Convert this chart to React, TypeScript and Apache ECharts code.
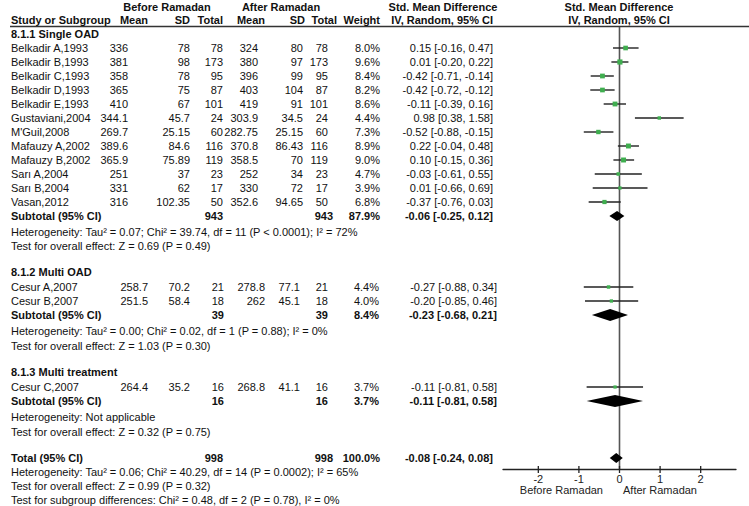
import React, { useEffect, useRef } from "react";
import * as echarts from "echarts";

// ---------- data ----------
const studyNames = [
  "Belkadir A,1993", "Belkadir B,1993", "Belkadir C,1993", "Belkadir D,1993", "Belkadir E,1993",
  "Gustaviani,2004", "M'Guil,2008", "Mafauzy A,2002", "Mafauzy B,2002", "Sarı A,2004",
  "Sarı B,2004", "Vasan,2012", "Cesur A,2007", "Cesur B,2007", "Cesur C,2007",
];
const studyGroup = [0, 0, 0, 0, 0, 0, 0, 0, 0, 0, 0, 0, 1, 1, 2];
const beforeMean = [336, 381, 358, 365, 410, 344.1, 269.7, 389.6, 365.9, 251, 331, 316, 258.7, 251.5, 264.4];
const beforeSD = [78, 98, 78, 75, 67, 45.7, 25.15, 84.6, 75.89, 37, 62, 102.35, 70.2, 58.4, 35.2];
const beforeTotal = [78, 173, 95, 87, 101, 24, 60, 116, 119, 23, 17, 50, 21, 18, 16];
const afterMean = [324, 380, 396, 403, 419, 303.9, 282.75, 370.8, 358.5, 252, 330, 352.6, 278.8, 262, 268.8];
const afterSD = [80, 97, 99, 104, 91, 34.5, 25.15, 86.43, 70, 34, 72, 94.65, 77.1, 45.1, 41.1];
const afterTotal = [78, 173, 95, 87, 101, 24, 60, 116, 119, 23, 17, 50, 21, 18, 16];
const weight = [8.0, 9.6, 8.4, 8.2, 8.6, 4.4, 7.3, 8.9, 9.0, 4.7, 3.9, 6.8, 4.4, 4.0, 3.7];
const smd = [0.15, 0.01, -0.42, -0.42, -0.11, 0.98, -0.52, 0.22, 0.10, -0.03, 0.01, -0.37, -0.27, -0.20, -0.11];
const ciLow = [-0.16, -0.20, -0.71, -0.72, -0.39, 0.38, -0.88, -0.04, -0.15, -0.61, -0.66, -0.76, -0.88, -0.85, -0.81];
const ciHigh = [0.47, 0.22, -0.14, -0.12, 0.16, 1.58, -0.15, 0.48, 0.36, 0.55, 0.69, 0.03, 0.34, 0.46, 0.58];

const groupTitles = ["8.1.1 Single OAD", "8.1.2 Multi OAD", "8.1.3 Multi treatment"];
const groupBeforeTotal = [943, 39, 16];
const groupAfterTotal = [943, 39, 16];
const groupWeight = [87.9, 8.4, 3.7];
const groupSmd = [-0.06, -0.23, -0.11];
const groupLow = [-0.25, -0.68, -0.81];
const groupHigh = [0.12, 0.21, 0.58];
const groupHeterogeneity = [
  "Heterogeneity: Tau² = 0.07; Chi² = 39.74, df = 11 (P < 0.0001); I² = 72%",
  "Heterogeneity: Tau² = 0.00; Chi² = 0.02, df = 1 (P = 0.88); I² = 0%",
  "Heterogeneity: Not applicable",
];
const groupEffect = [
  "Test for overall effect: Z = 0.69 (P = 0.49)",
  "Test for overall effect: Z = 1.03 (P = 0.30)",
  "Test for overall effect: Z = 0.32 (P = 0.75)",
];

const totalN = [998, 998];
const totalWeight = 100.0;
const totalSmd = -0.08;
const totalLow = -0.24;
const totalHigh = 0.08;
const totalNotes = [
  "Heterogeneity: Tau² = 0.06; Chi² = 40.29, df = 14 (P = 0.0002); I² = 65%",
  "Test for overall effect: Z = 0.99 (P = 0.32)",
  "Test for subgroup differences: Chi² = 0.48, df = 2 (P = 0.78), I² = 0%",
];

const xTicks = [-2, -1, 0, 1, 2];
const axisSideLabels = ["Before Ramadan", "After Ramadan"];

// ---------- layout ----------
const FONT = '"Liberation Sans", Arial, sans-serif';
const FS = 11;
const PLOT_LEFT = 503;
const PLOT_WIDTH = 233;
const PLOT_TOP = 27;
const PLOT_BOTTOM = 469;
const X_MIN = -2.87;
const X_MAX = 2.87;

type Cols = { bm: number; bsd: number; bt: number; am: number; asd: number; at: number; w: number; ci: number };
const colsA: Cols = { bm: 128, bsd: 190, bt: 223, am: 258, asd: 303, at: 328, w: 380, ci: 493 };
const colsB: Cols = { bm: 148, bsd: 190, bt: 224, am: 265, asd: 300, at: 328, w: 379, ci: 497 };
const groupCols = [colsA, colsB, colsB];

const fmt2 = (v: number) => v.toFixed(2);
const ciText = (m: number, l: number, h: number) => `${fmt2(m)} [${fmt2(l)}, ${fmt2(h)}]`;

type Txt = { t: string; x: number; y: number; align?: string; bold?: boolean };

function buildLayout() {
  const texts: Txt[] = [];
  const studyY: number[] = [];
  const groupY: number[] = [];
  let totalY = 0;
  let y = 34;
  for (let g = 0; g < groupTitles.length; g++) {
    const c = groupCols[g];
    if (g > 0) y += 26;
    texts.push({ t: groupTitles[g], x: 11, y, bold: true });
    let first = true;
    for (let i = 0; i < studyNames.length; i++) {
      if (studyGroup[i] !== g) continue;
      y += first && g > 0 ? 15 : 14;
      first = false;
      studyY[i] = y;
      texts.push({ t: studyNames[i], x: 11, y });
      texts.push({ t: String(beforeMean[i]), x: c.bm, y, align: "right" });
      texts.push({ t: String(beforeSD[i]), x: c.bsd, y, align: "right" });
      texts.push({ t: String(beforeTotal[i]), x: c.bt, y, align: "right" });
      texts.push({ t: String(afterMean[i]), x: c.am, y, align: "right" });
      texts.push({ t: String(afterSD[i]), x: c.asd, y, align: "right" });
      texts.push({ t: String(afterTotal[i]), x: c.at, y, align: "right" });
      texts.push({ t: weight[i].toFixed(1) + "%", x: c.w, y, align: "right" });
      texts.push({ t: ciText(smd[i], ciLow[i], ciHigh[i]), x: c.ci, y, align: "right" });
    }
    y += 14;
    groupY[g] = y;
    texts.push({ t: "Subtotal (95% CI)", x: 11, y, bold: true });
    texts.push({ t: String(groupBeforeTotal[g]), x: c.bt, y, align: "right", bold: true });
    texts.push({ t: String(groupAfterTotal[g]), x: g === 0 ? 333 : c.at, y, align: "right", bold: true });
    texts.push({ t: groupWeight[g].toFixed(1) + "%", x: c.w, y, align: "right", bold: true });
    texts.push({ t: ciText(groupSmd[g], groupLow[g], groupHigh[g]), x: c.ci, y, align: "right", bold: true });
    y += 16;
    texts.push({ t: groupHeterogeneity[g], x: 11, y });
    y += g === 0 ? 14 : 15;
    texts.push({ t: groupEffect[g], x: 11, y });
  }
  y += 26;
  totalY = y;
  texts.push({ t: "Total (95% CI)", x: 11, y, bold: true });
  texts.push({ t: String(totalN[0]), x: 223, y, align: "right", bold: true });
  texts.push({ t: String(totalN[1]), x: 333, y, align: "right", bold: true });
  texts.push({ t: totalWeight.toFixed(1) + "%", x: 380, y, align: "right", bold: true });
  texts.push({ t: ciText(totalSmd, totalLow, totalHigh), x: 493, y, align: "right", bold: true });
  for (const n of totalNotes) {
    y += 14;
    texts.push({ t: n, x: 11, y });
  }
  // header
  const hy1 = 7;
  const hy2 = 20;
  texts.push({ t: "Before Ramadan", x: 167, y: hy1, align: "center", bold: true });
  texts.push({ t: "After Ramadan", x: 281, y: hy1, align: "center", bold: true });
  texts.push({ t: "Std. Mean Difference", x: 443, y: hy1, align: "center", bold: true });
  texts.push({ t: "Std. Mean Difference", x: 619, y: hy1, align: "center", bold: true });
  texts.push({ t: "Study or Subgroup", x: 11, y: hy2, bold: true });
  texts.push({ t: "Mean", x: 148, y: hy2, align: "right", bold: true });
  texts.push({ t: "SD", x: 190, y: hy2, align: "right", bold: true });
  texts.push({ t: "Total", x: 223, y: hy2, align: "right", bold: true });
  texts.push({ t: "Mean", x: 265, y: hy2, align: "right", bold: true });
  texts.push({ t: "SD", x: 305, y: hy2, align: "right", bold: true });
  texts.push({ t: "Total", x: 337, y: hy2, align: "right", bold: true });
  texts.push({ t: "Weight", x: 380, y: hy2, align: "right", bold: true });
  texts.push({ t: "IV, Random, 95% CI", x: 493, y: hy2, align: "right", bold: true });
  texts.push({ t: "IV, Random, 95% CI", x: 619, y: hy2, align: "center", bold: true });
  return { texts, studyY, groupY, totalY };
}

export default function App() {
  const ref = useRef<HTMLDivElement>(null);
  useEffect(() => {
    document.body.style.margin = "0";
    if (!ref.current) return;
    const chart = echarts.init(ref.current, null, { renderer: "svg" });
    const { texts, studyY, groupY, totalY } = buildLayout();

    const graphicTexts = texts.map((t) => ({
      type: "text",
      x: t.x,
      y: t.y,
      silent: true,
      style: {
        text: t.t,
        fill: "#111",
        font: `${t.bold ? "bold " : ""}${FS}px ${FONT}`,
        textAlign: t.align || "left",
        align: t.align || "left",
        textVerticalAlign: "middle",
        verticalAlign: "middle",
      },
    }));

    const studyData = studyNames.map((_, i) => [smd[i], ciLow[i], ciHigh[i], studyY[i], weight[i]]);
    const diamondData = [
      ...groupTitles.map((_, g) => [groupSmd[g], groupLow[g], groupHigh[g], groupY[g], g === 0 ? 5 : 6]),
      [totalSmd, totalLow, totalHigh, totalY, 5],
    ];

    chart.setOption({
      animation: false,
      grid: {
        left: PLOT_LEFT,
        width: PLOT_WIDTH,
        top: PLOT_TOP,
        height: PLOT_BOTTOM - PLOT_TOP,
        containLabel: false,
      },
      xAxis: {
        type: "value",
        min: X_MIN,
        max: X_MAX,
        splitLine: { show: false },
        axisLine: { show: true, onZero: false, lineStyle: { color: "#222", width: 1.3 } },
        axisTick: { show: false, customValues: xTicks },
        axisLabel: {
          customValues: xTicks,
          color: "#222",
          fontSize: FS,
          fontFamily: FONT,
          margin: 4,
        },
      },
      yAxis: {
        type: "value",
        min: PLOT_TOP,
        max: PLOT_BOTTOM,
        inverse: true,
        show: false,
      },
      series: [
        {
          type: "line",
          data: [[0, PLOT_TOP], [0, PLOT_BOTTOM]],
          symbol: "none",
          lineStyle: { color: "#555", width: 1.6 },
          silent: true,
          z: 1,
        },
        {
          type: "custom",
          data: xTicks.map((v) => [v, PLOT_BOTTOM]),
          clip: false,
          z: 2,
          silent: true,
          renderItem: (_p: any, api: any) => {
            const c = api.coord([api.value(0), api.value(1)]);
            return {
              type: "line",
              shape: { x1: c[0], y1: c[1] - 3, x2: c[0], y2: c[1] + 4 },
              style: { stroke: "#222", lineWidth: 1.3 },
            };
          },
        },
        {
          type: "custom",
          data: studyData,
          clip: false,
          z: 3,
          renderItem: (_p: any, api: any) => {
            const yv = api.value(3);
            const lo = api.coord([api.value(1), yv]);
            const hi = api.coord([api.value(2), yv]);
            const c = api.coord([api.value(0), yv]);
            const s = 2 + api.value(4) * 0.33;
            return {
              type: "group",
              children: [
                {
                  type: "line",
                  shape: { x1: lo[0], y1: lo[1], x2: hi[0], y2: hi[1] },
                  style: { stroke: "#222", lineWidth: 1.4 },
                },
                {
                  type: "rect",
                  shape: { x: c[0] - s / 2, y: c[1] - s / 2, width: s, height: s },
                  style: { fill: "#3fae4f" },
                },
              ],
            };
          },
        },
        {
          type: "custom",
          data: diamondData,
          clip: false,
          z: 3,
          renderItem: (_p: any, api: any) => {
            const yv = api.value(3);
            const h = api.value(4);
            const lo = api.coord([api.value(1), yv]);
            const hi = api.coord([api.value(2), yv]);
            const c = api.coord([api.value(0), yv]);
            return {
              type: "polygon",
              shape: { points: [[lo[0], lo[1]], [c[0], c[1] - h], [hi[0], hi[1]], [c[0], c[1] + h]] },
              style: { fill: "#000" },
            };
          },
        },
      ],
      graphic: [
        {
          type: "line",
          shape: { x1: 10, y1: 26.5, x2: 749, y2: 26.5 },
          style: { stroke: "#333", lineWidth: 1.5 },
          silent: true,
        },
        ...graphicTexts,
        {
          type: "text",
          x: 603,
          y: 490,
          style: { text: axisSideLabels[0], fill: "#222", font: `${FS}px ${FONT}`, textAlign: "right", align: "right", textVerticalAlign: "middle", verticalAlign: "middle" },
        },
        {
          type: "text",
          x: 623,
          y: 490,
          style: { text: axisSideLabels[1], fill: "#222", font: `${FS}px ${FONT}`, textAlign: "left", align: "left", textVerticalAlign: "middle", verticalAlign: "middle" },
        },
      ],
    });
    return () => chart.dispose();
  }, []);
  return <div ref={ref} style={{ width: 749, height: 506, background: "#fff" }} />;
}
